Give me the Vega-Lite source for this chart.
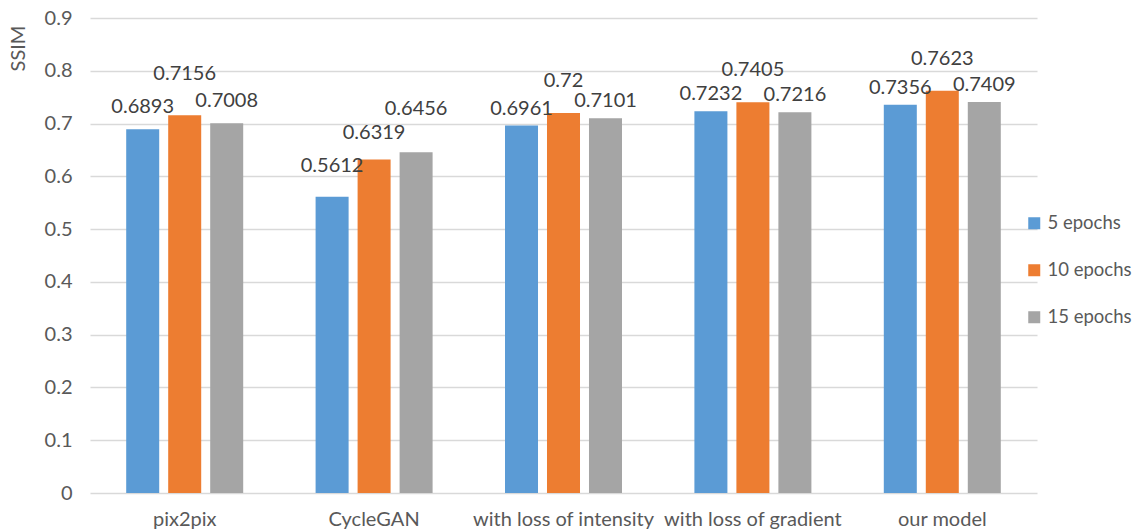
{
  "$schema": "https://vega.github.io/schema/vega-lite/v6.json",
  "width": 947,
  "height": 475,
  "autosize": {"type": "none"},
  "padding": {"left": 90, "top": 18, "right": 99, "bottom": 39},
  "background": "white",
  "config": {
    "view": {"stroke": null},
    "font": "Lato",
    "axis": {"labelColor": "#595959", "titleColor": "#595959", "labelFont": "Lato", "titleFont": "Lato"},
    "legend": {"labelColor": "#595959", "labelFont": "Lato"}
  },
  "data": {
    "values": [
      {"category": "pix2pix", "series": "5 epochs", "ssim": 0.6893},
      {"category": "pix2pix", "series": "10 epochs", "ssim": 0.7156},
      {"category": "pix2pix", "series": "15 epochs", "ssim": 0.7008},
      {"category": "CycleGAN", "series": "5 epochs", "ssim": 0.5612},
      {"category": "CycleGAN", "series": "10 epochs", "ssim": 0.6319},
      {"category": "CycleGAN", "series": "15 epochs", "ssim": 0.6456},
      {"category": "with loss of intensity", "series": "5 epochs", "ssim": 0.6961},
      {"category": "with loss of intensity", "series": "10 epochs", "ssim": 0.72},
      {"category": "with loss of intensity", "series": "15 epochs", "ssim": 0.7101},
      {"category": "with loss of gradient", "series": "5 epochs", "ssim": 0.7232},
      {"category": "with loss of gradient", "series": "10 epochs", "ssim": 0.7405},
      {"category": "with loss of gradient", "series": "15 epochs", "ssim": 0.7216},
      {"category": "our model", "series": "5 epochs", "ssim": 0.7356},
      {"category": "our model", "series": "10 epochs", "ssim": 0.7623},
      {"category": "our model", "series": "15 epochs", "ssim": 0.7409}
    ]
  },
  "encoding": {
    "x": {
      "field": "category",
      "type": "nominal",
      "sort": ["pix2pix", "CycleGAN", "with loss of intensity", "with loss of gradient", "our model"],
      "scale": {"paddingInner": 0, "paddingOuter": 0},
      "axis": {"title": null, "labelAngle": 0, "labelFontSize": 20, "labelPadding": 16, "labelLimit": 0, "domain": false, "ticks": false, "grid": false}
    },
    "xOffset": {
      "field": "series",
      "type": "nominal",
      "sort": ["5 epochs", "10 epochs", "15 epochs"],
      "scale": {"paddingInner": 0.214, "paddingOuter": 0.862}
    },
    "y": {
      "field": "ssim",
      "type": "quantitative",
      "scale": {"domain": [0, 0.9], "nice": false},
      "axis": {
        "title": "SSIM",
        "titleFontSize": 20,
        "titleFontWeight": "normal",
        "titleAngle": -90,
        "titleX": -72,
        "titleY": 30,
        "titleAlign": "center",
        "titleBaseline": "middle",
        "values": [0, 0.1, 0.2, 0.3, 0.4, 0.5, 0.6, 0.7, 0.8, 0.9],
        "format": ".1~f",
        "labelFontSize": 20,
        "labelPadding": 18,
        "domain": false,
        "ticks": false,
        "grid": true,
        "gridColor": "#D9D9D9",
        "gridWidth": 1.5
      }
    }
  },
  "layer": [
    {
      "mark": {"type": "bar"},
      "encoding": {
        "color": {
          "field": "series",
          "type": "nominal",
          "sort": ["5 epochs", "10 epochs", "15 epochs"],
          "scale": {"domain": ["5 epochs", "10 epochs", "15 epochs"], "range": ["#5B9BD5", "#ED7D31", "#A5A5A5"]},
          "legend": {
            "title": null,
            "orient": "none",
            "legendX": 935,
            "legendY": 196,
            "symbolType": "square",
            "symbolSize": 144,
            "symbolStrokeWidth": 0,
            "labelFontSize": 18.5,
            "labelOffset": 4,
            "labelLimit": 0,
            "rowPadding": 28
          }
        }
      }
    },
    {
      "mark": {
        "type": "text",
        "fontSize": 20,
        "color": "#404040",
        "align": "center",
        "baseline": "alphabetic",
        "dy": {"expr": "datum.category == 'CycleGAN' ? (datum.series == '5 epochs' ? -25 : (datum.series == '10 epochs' ? -20 : -37)) : (datum.category == 'pix2pix' ? (datum.series == '10 epochs' ? -35 : -16) : (datum.series == '10 epochs' ? -26 : -11))"}
      },
      "encoding": {
        "text": {"field": "ssim", "type": "quantitative"}
      }
    }
  ]
}
